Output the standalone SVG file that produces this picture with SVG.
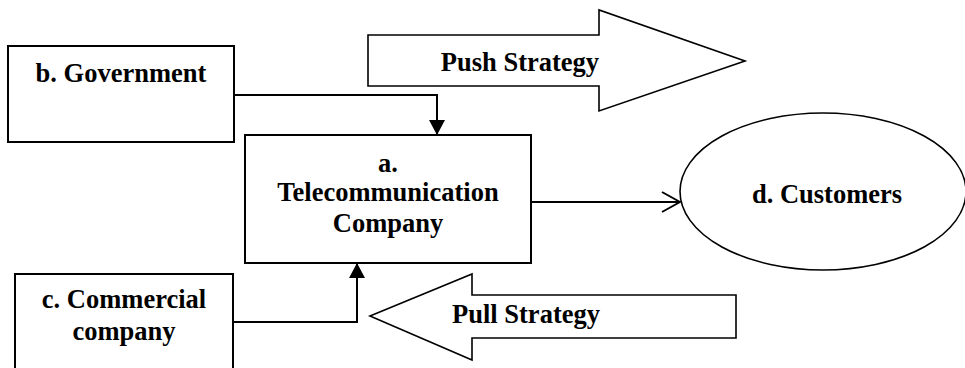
<svg xmlns="http://www.w3.org/2000/svg" width="965" height="368" viewBox="0 0 965 368">
<defs>
<style>
.box{fill:#fff;stroke:#000;stroke-width:2}
.big{fill:#fff;stroke:#000;stroke-width:1.6}
.t{font-family:"Liberation Serif","Times New Roman",serif;font-weight:bold;font-size:26.5px;fill:#000;text-anchor:middle}
.c{fill:none;stroke:#000;stroke-width:2}
</style>
<marker id="fill" viewBox="0 0 15 16" refX="15" refY="8" markerWidth="15" markerHeight="16" markerUnits="userSpaceOnUse" orient="auto">
<path d="M0,0 L15,8 L0,16 Z" fill="#000"/>
</marker>
<marker id="open" viewBox="0 0 20 22" refX="19" refY="11" markerWidth="20" markerHeight="22" markerUnits="userSpaceOnUse" orient="auto">
<path d="M1,1 L19,11 L1,21" fill="none" stroke="#000" stroke-width="2"/>
</marker>
</defs>
<rect width="965" height="368" fill="#fff"/>
<g id="push">
<polygon class="big" points="368,35 599,35 599,10 745,61 599,111 599,86 368,86"/>
<text class="t" x="520" y="71">Push Strategy</text>
</g>
<g id="pull">
<polygon class="big" points="370,316 472,274 472,295 736,295 736,338 472,338 472,360"/>
<text class="t" x="526" y="323">Pull Strategy</text>
</g>
<g id="government">
<rect class="box" x="8" y="46" width="226" height="96"/>
<text class="t" x="121" y="82">b. Government</text>
</g>
<g id="telecom">
<rect class="box" x="245" y="135" width="286" height="128"/>
<text class="t" x="388" y="172">a.</text>
<text class="t" x="388" y="201">Telecommunication</text>
<text class="t" x="388" y="232">Company</text>
</g>
<g id="commercial">
<rect class="box" x="15" y="274" width="218" height="100"/>
<text class="t" x="124" y="308">c. Commercial</text>
<text class="t" x="124" y="340">company</text>
</g>
<g id="customers">
<ellipse class="big" cx="823" cy="191.5" rx="143" ry="78.5"/>
<text class="t" x="827" y="203">d. Customers</text>
</g>
<g id="connectors">
<polyline class="c" points="234,95 437,95 437,135" marker-end="url(#fill)"/>
<polyline class="c" points="233,322 357,322 357,263" marker-end="url(#fill)"/>
<line class="c" x1="531" y1="202" x2="680" y2="202" marker-end="url(#open)"/>
</g>
</svg>
